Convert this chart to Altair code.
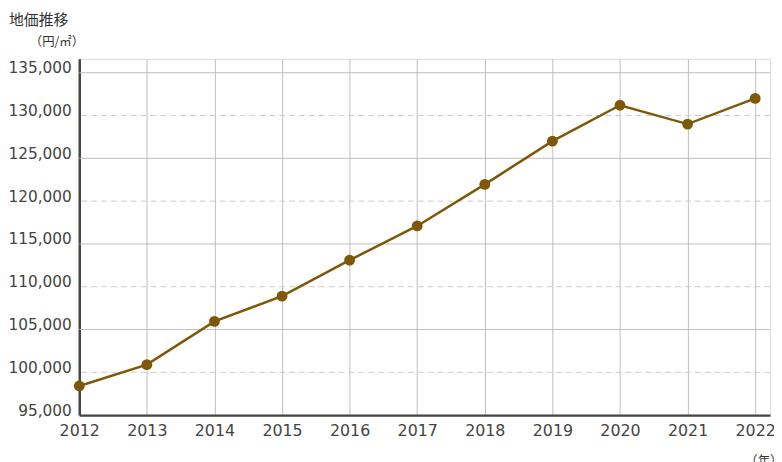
import altair as alt
import pandas as pd

years = [2012, 2013, 2014, 2015, 2016, 2017, 2018, 2019, 2020, 2021, 2022]
prices = [98400, 100900, 105950, 108900, 113100, 117100, 121950, 127000, 131200, 129000, 132000]
y_ticks = [95000, 100000, 105000, 110000, 115000, 120000, 125000, 130000, 135000]
solid_grid = [105000, 115000, 125000, 135000]
dashed_grid = [100000, 110000, 120000, 130000]

LINE_COLOR = "#7f5806"
FONT = "DejaVu Sans"
CJK = "Noto Sans CJK JP"

df = pd.DataFrame({"year": years, "value": prices})

x_scale = alt.Scale(domain=[2012, 2022.22], nice=False, zero=False)
y_scale = alt.Scale(domain=[95000, 136620], nice=False, zero=False)

x_axis = alt.Axis(values=years, format="d", title=None, grid=True, gridColor="#bdbdbd",
                  gridWidth=1, ticks=False, domainColor="#444444", domainWidth=2.5,
                  labelFont=FONT, labelFontSize=16, labelColor="#444444", labelPadding=8,
                  labelFlush=False, labelOverlap=False)
y_axis = alt.Axis(values=y_ticks, format=",.0f", title=None, grid=False, ticks=False,
                  domainColor="#444444", domainWidth=2.5, labelFont=FONT, labelFontSize=15.5,
                  labelColor="#444444", labelPadding=8, labelOffset=-5,
                  labelFlush=False, labelOverlap=False)

def X(field):
    return alt.X(field, type="quantitative", scale=x_scale, axis=x_axis)

def Y(field):
    return alt.Y(field, type="quantitative", scale=y_scale, axis=y_axis)

solid = alt.Chart(pd.DataFrame({"value": solid_grid})).mark_rule(
    color="#bdbdbd", strokeWidth=1).encode(y=Y("value"))
dashed = alt.Chart(pd.DataFrame({"value": dashed_grid})).mark_rule(
    color="#cccccc", strokeWidth=1, strokeDash=[6, 4]).encode(y=Y("value"))

line = alt.Chart(df).mark_line(color=LINE_COLOR, strokeWidth=2.5).encode(x=X("year"), y=Y("value"))
pts = alt.Chart(df).mark_point(filled=True, color=LINE_COLOR, size=120, opacity=1).encode(
    x=X("year"), y=Y("value"))

one = pd.DataFrame({"a": [0]})
title1 = alt.Chart(one).mark_text(text="地価推移", font=CJK, fontSize=15, color="#333333",
                                  align="left", baseline="top").encode(
    x=alt.value(-71), y=alt.value(-46))
title2 = alt.Chart(one).mark_text(text="（円/㎡）", font=CJK, fontSize=12.5, color="#333333",
                                  align="left", baseline="top").encode(
    x=alt.value(-50), y=alt.value(-23))
title3 = alt.Chart(one).mark_text(text="（年）", font=CJK, fontSize=12.5, color="#333333",
                                  align="left", baseline="top").encode(
    x=alt.value(673), y=alt.value(400))

chart = alt.layer(solid, dashed, line, pts, title1, title2, title3).properties(
    width=698, height=360,
    autosize=alt.AutoSizeParams(type="none"),
    padding={"left": 72, "top": 49, "right": 4, "bottom": 45},
).configure_view(stroke=None).configure(background="white")

chart.save("out.html", embed_options={"renderer": "svg", "actions": False})
